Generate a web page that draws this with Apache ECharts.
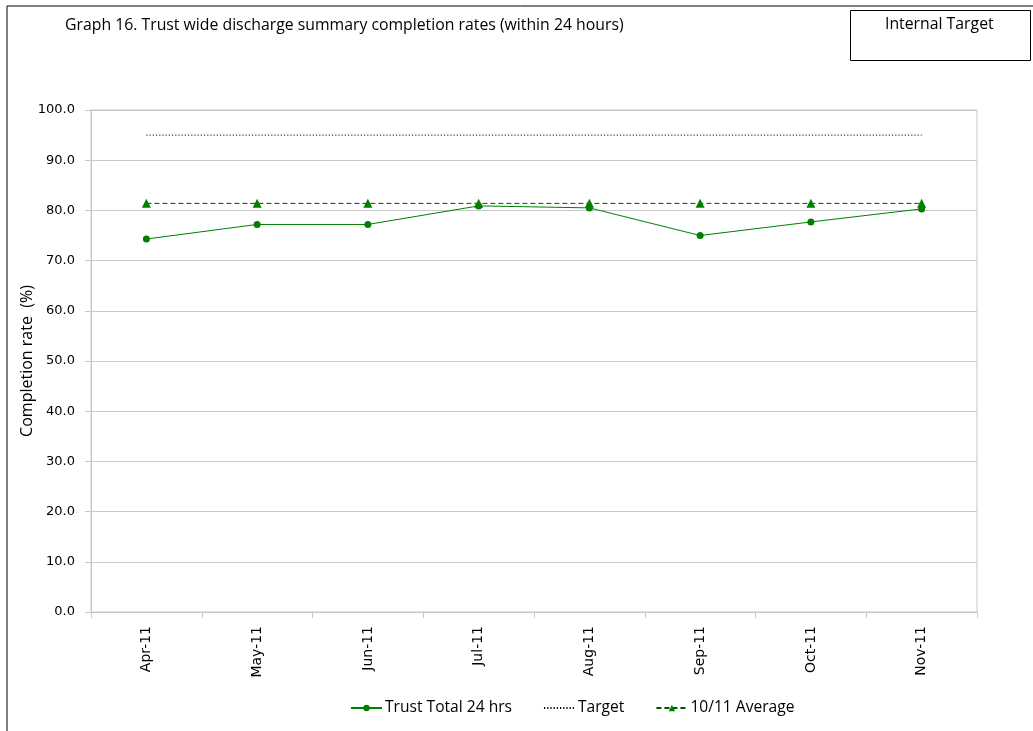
<!DOCTYPE html>
<html>
<head>
<meta charset="utf-8">
<script src="https://cdn.jsdelivr.net/npm/echarts@6/dist/echarts.min.js"></script>
<style>
  html, body { margin: 0; padding: 0; background: #fff; }
  #chart { width: 1033px; height: 731px; }
</style>
</head>
<body>
<div id="chart"></div>
<script>
// Monthly discharge summary completion (within 24 hours), %
const months = ['Apr-11', 'May-11', 'Jun-11', 'Jul-11', 'Aug-11', 'Sep-11', 'Oct-11', 'Nov-11'];
const trustTotal = [74.3, 77.2, 77.2, 80.9, 80.5, 75.0, 77.7, 80.3];
const targetValues = [95, 95, 95, 95, 95, 95, 95, 95];
const averageValues = [81.4, 81.4, 81.4, 81.4, 81.4, 81.4, 81.4, 81.4];
const yTicks = { min: 0, max: 100, step: 10 };

const FONT = '"Open Sans", Lato, sans-serif';
const AXIS_FONT = '"DejaVu Sans", Verdana, sans-serif';
const GREEN = '#008000';

const chart = echarts.init(document.getElementById('chart'), null, { renderer: 'canvas' });

chart.setOption({
  animation: false,
  backgroundColor: '#fff',
  textStyle: { fontFamily: FONT, color: '#000' },
  graphic: [
    // outer frame of the sheet
    { type: 'rect', shape: { x: 7, y: 6, width: 1100, height: 800 },
      style: { fill: 'none', stroke: '#000', lineWidth: 1 }, silent: true },
    { type: 'text', left: 65, top: 17,
      style: { text: 'Graph 16. Trust wide discharge summary completion rates (within 24 hours)',
               font: '15.8px ' + FONT, fill: '#000' } },
    // "Internal Target" box
    { type: 'rect', shape: { x: 850.5, y: 10.5, width: 180, height: 50 },
      style: { fill: '#fff', stroke: '#000', lineWidth: 1 } },
    { type: 'text', left: 885, top: 16,
      style: { text: 'Internal Target', font: '15.8px ' + FONT, fill: '#000' } }
  ],
  grid: {
    left: 91, right: 56, top: 110, bottom: 119,
    show: true, borderColor: '#c8c8c8', borderWidth: 1
  },
  legend: {
    bottom: 10, left: 345,
    itemWidth: 31, itemHeight: 8, itemGap: 31,
    textStyle: { fontSize: 15.6, fontFamily: FONT, color: '#000', padding: [0, 0, 0, -2] },
    data: [
      'Trust Total 24 hrs',
      { name: 'Target', itemStyle: { opacity: 0 } },
      '10/11 Average'
    ]
  },
  xAxis: {
    type: 'category',
    data: months,
    boundaryGap: true,
    axisLine: { lineStyle: { color: '#c8c8c8' } },
    axisTick: { show: true, length: 6, lineStyle: { color: '#c8c8c8' } },
    axisLabel: { rotate: 90, fontSize: 14, color: '#000', margin: 14, fontFamily: AXIS_FONT },
    splitLine: { show: false }
  },
  yAxis: {
    type: 'value',
    min: yTicks.min, max: yTicks.max, interval: yTicks.step,
    name: 'Completion rate  (%)',
    nameLocation: 'middle',
    nameGap: 56,
    nameMoveOverlap: false,
    nameTextStyle: { fontSize: 16, color: '#000', fontFamily: FONT },
    axisLine: { show: true, lineStyle: { color: '#c8c8c8' } },
    axisTick: { show: true, length: 6, lineStyle: { color: '#c8c8c8' } },
    axisLabel: { fontSize: 13, color: '#000', margin: 16, fontFamily: AXIS_FONT,
                 formatter: v => v.toFixed(1) },
    splitLine: { show: true, lineStyle: { color: '#c8c8c8', width: 1 } }
  },
  series: [
    {
      name: 'Trust Total 24 hrs', type: 'line', data: trustTotal,
      symbol: 'circle', symbolSize: 7,
      itemStyle: { color: GREEN },
      lineStyle: { color: GREEN, width: 1 },
      z: 4
    },
    {
      name: 'Target', type: 'line', data: targetValues,
      symbol: 'none',
      itemStyle: { color: '#000' },
      lineStyle: { color: '#000', width: 1, type: [1.2, 2] },
      z: 2
    },
    {
      name: '10/11 Average', type: 'line', data: averageValues,
      symbol: 'triangle', symbolSize: 9,
      itemStyle: { color: GREEN },
      lineStyle: { color: '#005500', width: 1, type: [5, 3] },
      z: 3
    }
  ]
});
</script>
</body>
</html>
